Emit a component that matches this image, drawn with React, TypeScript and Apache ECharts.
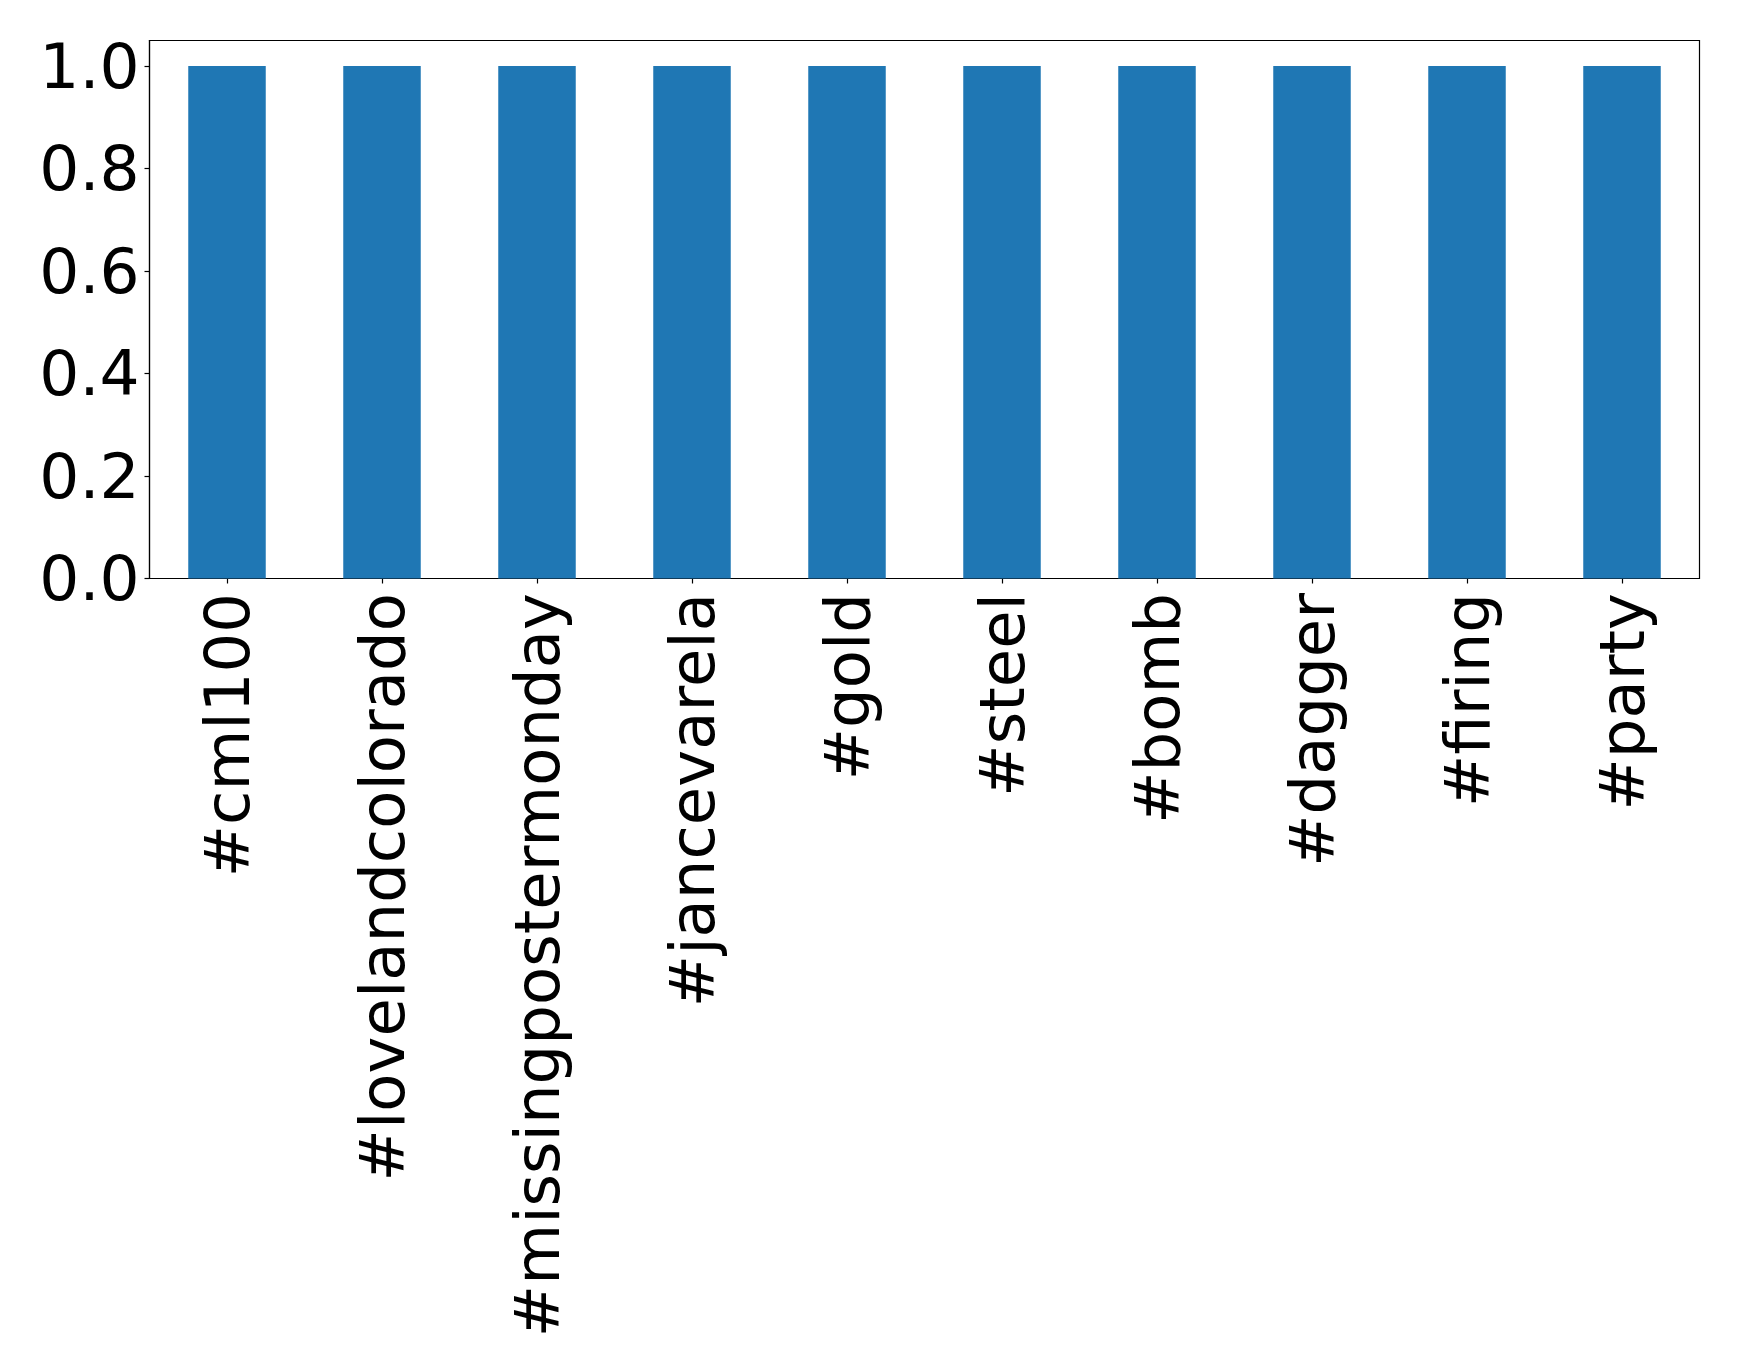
import React, { useEffect, useRef } from "react";
import * as echarts from "echarts";

const categories = [
  "#cml100",
  "#lovelandcolorado",
  "#missingpostermonday",
  "#jancevarela",
  "#gold",
  "#steel",
  "#bomb",
  "#dagger",
  "#firing",
  "#party",
];
const values = [1, 1, 1, 1, 1, 1, 1, 1, 1, 1];
const yTicks = [0, 0.2, 0.4, 0.6, 0.8, 1.0];

export default function App() {
  const ref = useRef<HTMLDivElement>(null);
  useEffect(() => {
    document.body.style.margin = "0";
    const chart = echarts.init(ref.current!, null, { renderer: "svg" });
    const font = "DejaVu Sans";
    chart.setOption({
      animation: false,
      backgroundColor: "#ffffff",
      grid: {
        left: 149.5,
        right: 39.5,
        top: 40.5,
        bottom: 793.5,
        show: true,
        borderColor: "#000000",
        borderWidth: 1.2,
        backgroundColor: "transparent",
      },
      xAxis: {
        type: "category",
        data: categories,
        axisLine: { show: true, lineStyle: { color: "#000", width: 1.2 } },
        axisTick: { show: true, alignWithLabel: true, length: 5, lineStyle: { color: "#000", width: 1.2 } },
        axisLabel: {
          rotate: 90,
          interval: 0,
          margin: 14.5,
          fontFamily: font,
          fontSize: 62.5,
          color: "#000",
        },
        splitLine: { show: false },
      },
      yAxis: {
        type: "value",
        min: 0,
        max: 1.05,
        interval: 0.2,
        axisLine: { show: true, lineStyle: { color: "#000", width: 1.2 } },
        axisTick: {
          show: true,
          length: 5,
          customValues: yTicks,
          lineStyle: { color: "#000", width: 1.2 },
        },
        axisLabel: {
          customValues: yTicks,
          margin: 10,
          fontFamily: font,
          fontSize: 63,
          color: "#000",
          formatter: (v: number) => v.toFixed(1),
        },
        splitLine: { show: false },
      },
      series: [
        {
          type: "bar",
          data: values,
          barWidth: "50%",
          itemStyle: { color: "#1f77b4" },
        },
      ],
    });
    return () => chart.dispose();
  }, []);
  return (
    <div
      ref={ref}
      style={{ position: "fixed", left: 0, top: 0, width: 1739, height: 1372 }}
    />
  );
}
